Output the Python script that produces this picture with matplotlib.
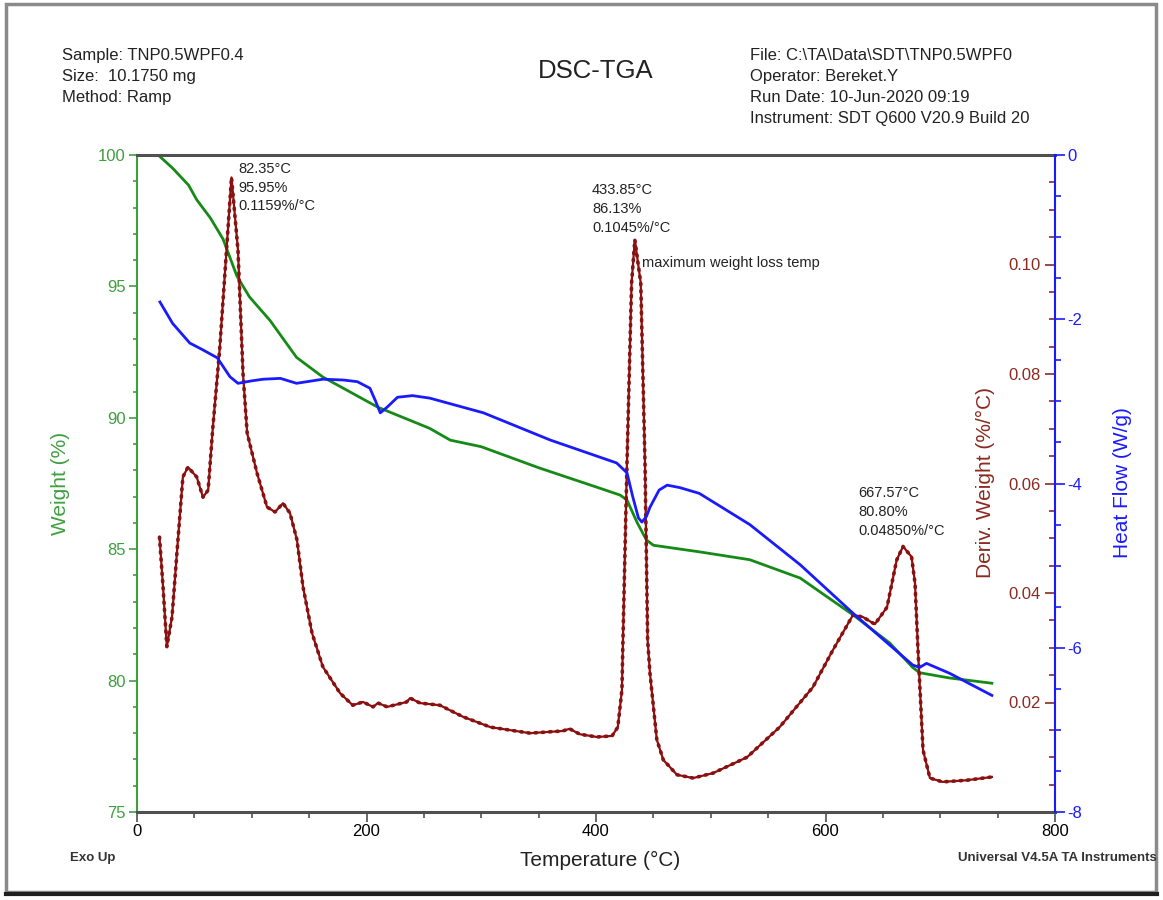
import numpy as np
import matplotlib
matplotlib.use("Agg")
import matplotlib.pyplot as plt
from matplotlib.ticker import MultipleLocator, FixedLocator
from matplotlib.patches import Rectangle

plt.rcParams['font.family'] = ['Liberation Sans', 'DejaVu Sans']
plt.rcParams['axes.unicode_minus'] = False

# weight (%) vs temperature
w_temp = [19, 31, 45, 52, 64, 75, 87, 98, 116, 139, 162, 185, 210, 255, 273, 300,
          350, 400, 421, 427, 436, 444, 450, 490, 534, 578, 624, 656, 676, 682, 708, 745]
weight = [99.98, 99.5, 98.85, 98.3, 97.6, 96.8, 95.4, 94.6, 93.7, 92.3, 91.55, 91.0,
          90.4, 89.6, 89.15, 88.9, 88.1, 87.37, 87.06, 86.87, 86.0, 85.35, 85.15,
          84.9, 84.6, 83.9, 82.5, 81.43, 80.5, 80.3, 80.1, 79.9]

# heat flow (W/g)
h_temp = [20, 31, 46, 57, 70, 81, 88, 100, 110, 125, 139, 162, 180, 192, 203, 208,
          212, 218, 227, 240, 255, 302, 360, 418, 427, 432, 437, 440, 444, 447, 455,
          462, 473, 490, 534, 578, 624, 676, 682, 688, 708, 745]
heat = [-1.79, -2.05, -2.29, -2.37, -2.47, -2.70, -2.78, -2.75, -2.73, -2.72, -2.78,
        -2.73, -2.74, -2.76, -2.84, -3.0, -3.14, -3.07, -2.95, -2.93, -2.96, -3.14,
        -3.47, -3.75, -3.87, -4.16, -4.42, -4.47, -4.40, -4.29, -4.08, -4.02, -4.05,
        -4.12, -4.50, -4.99, -5.58, -6.21, -6.24, -6.19, -6.31, -6.58]

# derivative weight (%/°C)
d_temp = [19.6, 22.7, 26, 30.5, 35, 40, 44.4, 52, 57.5, 62, 66, 72, 78, 82.35, 88,
          92.4, 96, 104.6, 113.3, 120.3, 127.2, 133.3, 139.4, 144.7, 152.5, 162, 177,
          188, 197, 205.7, 210, 218, 235, 238, 246.6, 264, 284, 308, 342.5, 371, 377,
          386, 401, 414, 419, 422.6, 423.5, 427, 431, 433.85, 439, 442.7, 445, 447,
          453, 458.7, 470.6, 484.6, 502, 531.6, 560, 589, 606.5, 624, 632.7, 643,
          653.6, 662, 667.57, 675, 678, 680.6, 685, 691, 702, 723, 745]
deriv = [0.0502, 0.0411, 0.0302, 0.0356, 0.0479, 0.0612, 0.063, 0.0612, 0.0575,
         0.0588, 0.070, 0.0844, 0.1026, 0.1159, 0.1026, 0.080, 0.0692, 0.0619, 0.0557,
         0.0548, 0.0564, 0.0546, 0.0497, 0.0411, 0.0327, 0.0265, 0.0217, 0.0195,
         0.0201, 0.0192, 0.0199, 0.0192, 0.0201, 0.0208, 0.0199, 0.0195, 0.0174,
         0.0155, 0.0144, 0.0148, 0.0152, 0.0142, 0.0137, 0.0139, 0.0155, 0.0223,
         0.0314, 0.0637, 0.0966, 0.1045, 0.0966, 0.0637, 0.0314, 0.0254, 0.0132,
         0.0095, 0.0068, 0.0062, 0.0071, 0.0100, 0.0155, 0.0228, 0.0296, 0.036,
         0.0356, 0.0343, 0.0374, 0.046, 0.0485, 0.0466, 0.0418, 0.0296, 0.0113,
         0.0062, 0.0055, 0.0058, 0.0064]

peaks = [
    (88.0, 99.75, "82.35°C\n95.95%\n0.1159%/°C"),
    (396.5, 98.93, "433.85°C\n86.13%\n0.1045%/°C"),
    (628.3, 87.4, "667.57°C\n80.80%\n0.04850%/°C"),
]

GREEN = '#168a16'
GREEN_T = '#3f9f3f'
RED = '#8b1010'
RED_T = '#8b2a20'
BLUE = '#1a1aff'
GREY = '#505050'

fig = plt.figure(figsize=(11.63, 9.0), dpi=100)
ax = fig.add_axes([137 / 1163, 1 - 812 / 900, (1055 - 137) / 1163, (812 - 155) / 900])
ax2 = ax.twinx()
ax3 = ax.twinx()

# weight
ax.plot(w_temp, weight, color=GREEN, lw=2)
ax.set_xlim(0, 800)
ax.set_ylim(75, 100)
ax.xaxis.set_major_locator(MultipleLocator(200))
ax.xaxis.set_minor_locator(MultipleLocator(50))
ax.yaxis.set_major_locator(MultipleLocator(5))
ax.yaxis.set_minor_locator(MultipleLocator(1))
ax.tick_params(axis='x', which='major', length=7, width=1.2, color=GREY,
               labelsize=12, pad=2)
ax.tick_params(axis='x', which='minor', length=4, width=1.2, color=GREY)
ax.tick_params(axis='y', which='major', length=6, width=1.2, color=GREEN_T,
               labelcolor=GREEN_T, labelsize=12, pad=2)
ax.tick_params(axis='y', which='minor', length=3, width=1.2, color=GREEN_T)
ax.spines['left'].set_color(GREEN_T)
ax.spines['left'].set_linewidth(1.5)
ax.spines['right'].set_visible(False)
for s in ['top', 'bottom']:
    ax.spines[s].set_color(GREY)
    ax.spines[s].set_linewidth(2.2)

# derivative
ax2.plot(d_temp, deriv, color=RED, lw=1.6)
ax2.plot(d_temp, deriv, color=RED, lw=2.6, ls=(0, (0.4, 1.6)), dash_capstyle='round')
ax2.set_ylim(0, 0.12)
ax2.yaxis.set_major_locator(FixedLocator([0.02, 0.04, 0.06, 0.08, 0.10]))
ax2.yaxis.set_minor_locator(FixedLocator(np.arange(0.005, 0.12, 0.005)))
ax2.tick_params(axis='y', which='major', direction='in', length=7, width=1.2,
                color=RED_T, labelcolor=RED_T, labelsize=12, pad=-10)
ax2.tick_params(axis='y', which='minor', direction='in', length=4, width=1.2, color=RED_T)
for lab in ax2.get_yticklabels():
    lab.set_horizontalalignment('right')
ax2.yaxis.set_major_formatter(plt.FuncFormatter(lambda v, p: f"{v:.2f}"))
for s in ax2.spines.values():
    s.set_visible(False)

# heat flow
ax3.plot(h_temp, heat, color=BLUE, lw=2)
ax3.set_ylim(-8, 0)
ax3.yaxis.set_major_locator(MultipleLocator(2))
ax3.yaxis.set_minor_locator(MultipleLocator(0.5))
ax3.tick_params(axis='y', which='major', length=7, width=1.2, color=BLUE,
                labelcolor=BLUE, labelsize=12, pad=2)
ax3.tick_params(axis='y', which='minor', length=4, width=1.2, color=BLUE)
for s in ['top', 'bottom', 'left']:
    ax3.spines[s].set_visible(False)
ax3.spines['right'].set_color(BLUE)
ax3.spines['right'].set_linewidth(1.5)

# peak notes
for x, y, txt in peaks:
    ax.text(x, y, txt, fontsize=10.5, color='#222222', va='top', ha='left',
            linespacing=1.45)
ax.text(440, 95.9, "maximum weight loss temp", fontsize=10.5, color='#222222',
        va='center', ha='left')

# axis titles
fig.text(60 / 1163, 1 - 483 / 900, "Weight (%)", rotation=90, color=GREEN_T,
         fontsize=15, ha='center', va='center')
fig.text(985 / 1163, 1 - 483 / 900, "Deriv. Weight (%/°C)", rotation=90, color=RED_T,
         fontsize=15, ha='center', va='center')
fig.text(1122 / 1163, 1 - 483 / 900, "Heat Flow (W/g)", rotation=90, color=BLUE,
         fontsize=15, ha='center', va='center')
fig.text(600 / 1163, 1 - 860 / 900, "Temperature (°C)", fontsize=15,
         ha='center', va='center', color='#222222')
fig.text(70 / 1163, 1 - 858 / 900, "Exo Up", fontsize=9.5, fontweight='bold',
         ha='left', va='center', color='#333333')
fig.text(1157 / 1163, 1 - 858 / 900, "Universal V4.5A TA Instruments", fontsize=9.5,
         fontweight='bold', ha='right', va='center', color='#333333')

# header block
fig.text(62 / 1163, 1 - 48 / 900, "Sample: TNP0.5WPF0.4\nSize:  10.1750 mg\nMethod: Ramp",
         fontsize=12, ha='left', va='top', linespacing=1.5, color='#222222')
fig.text(750 / 1163, 1 - 48 / 900,
         "File: C:\\TA\\Data\\SDT\\TNP0.5WPF0\nOperator: Bereket.Y\n"
         "Run Date: 10-Jun-2020 09:19\nInstrument: SDT Q600 V20.9 Build 20",
         fontsize=12, ha='left', va='top', linespacing=1.5, color='#222222')
fig.text(596 / 1163, 1 - 71 / 900, "DSC-TGA", fontsize=18.5, ha='center',
         va='center', color='#222222')

# page frame
fig.patches.append(Rectangle((6 / 1163, 1 - 892 / 900), 1150 / 1163, 888 / 900,
                             transform=fig.transFigure, fill=False,
                             edgecolor='#8a8a8a', lw=2.5))
fig.lines.append(plt.Line2D([6 / 1163, 1157 / 1163], [1 - 894 / 900] * 2,
                            transform=fig.transFigure, color='#202020', lw=3))

fig.savefig("out.png", dpi=100)
